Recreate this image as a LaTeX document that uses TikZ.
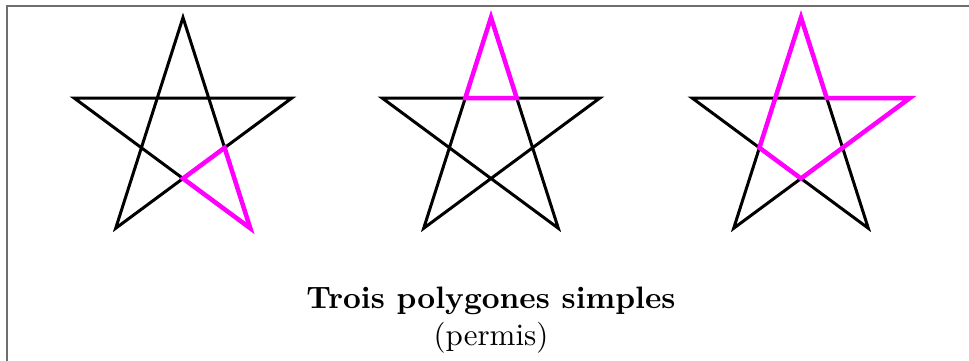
\documentclass[tikz,border=0pt]{standalone}
\usepackage{fontspec}
\setmainfont{lmroman10-regular.otf}[BoldFont=lmroman10-bold.otf]
\definecolor{framegray}{RGB}{110,110,110}
\definecolor{hlmag}{RGB}{255,0,255}
\begin{document}
\begin{tikzpicture}[x=1pt,y=1pt,
  starline/.style={draw=black,line width=3pt},
  hl/.style={draw=hlmag,line width=4.5pt},
  framebox/.style={draw=framegray,line width=1.5pt},
  txt/.style={anchor=base,font=\fontsize{31}{37}\selectfont}]
\useasboundingbox (0,0) rectangle (969,360);
\clip (0,0) rectangle (969,360);
\draw[framebox] (7,-50) rectangle (1100,354);
\foreach \cx/\n in {183/a,491/b,801/c}{
  \coordinate (\n c) at (\cx,226);
  \foreach \i in {0,...,4}{
    \path (\n c) ++({90+72*\i}:114.5 and 116.5) coordinate (\n o\i);
    \path (\n c) ++({126+72*\i}:43.74 and 44.5) coordinate (\n n\i);
  }
  \draw[starline] (\n o0) -- (\n o2) -- (\n o4) -- (\n o1) -- (\n o3) -- cycle;
}
\draw[hl] (an2) -- (an3) -- (ao3) -- cycle;
\draw[hl] (bo0) -- (bn4) -- (bn0) -- cycle;
\draw[hl] (co0) -- (cn4) -- (co4) -- (cn2) -- (cn1) -- (cn0) -- cycle;
\node[txt,font=\fontsize{31}{37}\selectfont\bfseries] (title) at (491,52) {Trois polygones simples};
\node[txt] (sub) at (491,15) {(permis)};
\end{tikzpicture}
\end{document}
